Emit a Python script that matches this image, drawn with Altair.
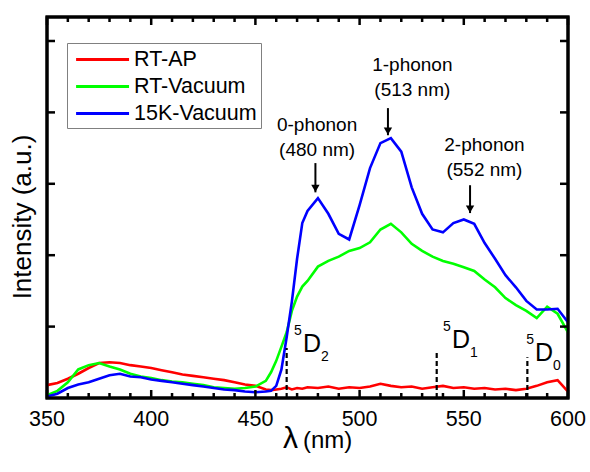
import altair as alt
import pandas as pd

# ---------------- data ----------------
wavelength = [350, 355, 360, 365, 370, 375, 380, 385, 390, 395, 400, 405, 410, 415, 420,
              425, 430, 435, 440, 445, 450, 455, 457.5, 460, 462.5, 465, 467.5, 470, 472.5,
              475, 480, 485, 490, 495, 500, 505, 510, 515, 520, 525, 530, 535, 540, 545,
              550, 555, 560, 565, 570, 575, 580, 585, 590, 595, 600]

rt_ap = [0.18, 0.21, 0.27, 0.34, 0.42, 0.49, 0.50, 0.49, 0.46, 0.44, 0.42, 0.39, 0.36, 0.33, 0.31,
         0.29, 0.27, 0.25, 0.22, 0.19, 0.17, 0.12, 0.11, 0.12, 0.13, 0.15, 0.12, 0.14, 0.13,
         0.15, 0.14, 0.16, 0.13, 0.15, 0.14, 0.16, 0.20, 0.17, 0.15, 0.16, 0.13, 0.15, 0.17, 0.14,
         0.15, 0.13, 0.14, 0.12, 0.13, 0.11, 0.13, 0.17, 0.22, 0.25, 0.09]

rt_vacuum = [0.04, 0.10, 0.22, 0.40, 0.46, 0.49, 0.44, 0.40, 0.34, 0.30, 0.28, 0.25, 0.23, 0.22, 0.20,
             0.18, 0.15, 0.14, 0.13, 0.14, 0.16, 0.24, 0.36, 0.52, 0.72, 0.92, 1.22, 1.42, 1.56,
             1.64, 1.84, 1.92, 1.98, 2.06, 2.10, 2.18, 2.36, 2.44, 2.32, 2.16, 2.06, 1.98, 1.92, 1.88,
             1.83, 1.78, 1.66, 1.55, 1.40, 1.30, 1.22, 1.12, 1.28, 1.18, 0.92]

k15_vacuum = [0.02, 0.06, 0.14, 0.19, 0.22, 0.27, 0.32, 0.34, 0.30, 0.29, 0.26, 0.24, 0.22, 0.20, 0.18,
              0.16, 0.14, 0.12, 0.11, 0.09, 0.08, 0.09, 0.10, 0.17, 0.40, 0.85, 1.35, 1.95, 2.45,
              2.62, 2.80, 2.58, 2.30, 2.22, 2.70, 3.22, 3.57, 3.64, 3.45, 2.95, 2.58, 2.36, 2.32, 2.45,
              2.50, 2.44, 2.17, 1.95, 1.72, 1.55, 1.36, 1.24, 1.24, 1.25, 1.06]

series_names = ["RT-AP", "RT-Vacuum", "15K-Vacuum"]
series_colors = ["#FF0000", "#00FF00", "#0000FF"]

x_major = [350, 400, 450, 500, 550, 600]
x_tick_labels = ["350", "400", "450", "500", "550", "600"]
x_minor = [v for v in range(350, 601, 10) if v % 50 != 0]
y_major = [1, 2, 3, 4, 5]
x_range = [350, 600]
y_range = [0, 5.336]

x_title_symbol = ["λ"]
x_title_unit = ["(nm)"]
y_title = ["Intensity (a.u.)"]

# energy levels 5D2, 5D1, 5D0
level_sub = ["2", "1", "0"]
level_x = [465, 537, 580.5]
level_top = [0.70, 0.67, 0.57]
level_label_x = [472.8, 544.3, 584.2]
level_label_y = [0.76, 0.81, 0.63]

# phonon annotations
phonon_line1 = ["0-phonon", "1-phonon", "2-phonon"]
phonon_line2 = ["(480 nm)", "(513 nm)", "(552 nm)"]
phonon_text_x = [479.6, 525.3, 559.9]
phonon_text_y = [3.65, 4.49, 3.37]
arrow_x = [478.8, 513.6, 553.0]
arrow_top = [3.29, 4.06, 2.98]
arrow_tip = [2.88, 3.68, 2.59]

FONT = "Liberation Sans"
W, H = 521, 381

# ---------------- tables ----------------
rows = []
for name, vals in zip(series_names, [rt_ap, rt_vacuum, k15_vacuum]):
    for w, v in zip(wavelength, vals):
        rows.append({"nm": w, "val": v, "series": name})
df = pd.DataFrame(rows)

df_levels = pd.DataFrame({"x": level_x, "base": [0] * 3, "top": level_top,
                          "lx": level_label_x, "ly": level_label_y, "sub": level_sub,
                          "sup": ["5"] * 3, "D": ["D"] * 3})
df_ph = pd.DataFrame({"tx": phonon_text_x, "ty": phonon_text_y, "l1": phonon_line1,
                      "l2": phonon_line2, "ax": arrow_x, "atop": arrow_top, "atip": arrow_tip})
df_xlab = pd.DataFrame({"xl": x_major, "label": x_tick_labels})
df_xM = pd.DataFrame({"x": x_major})
df_xm = pd.DataFrame({"x": x_minor})
df_yM = pd.DataFrame({"y": y_major})
df_frame = pd.DataFrame({"x0": [x_range[0]], "x1": [x_range[1]],
                         "y0": [y_range[0]], "y1": [y_range[1]]})

xs = alt.Scale(domain=x_range, nice=False, zero=False)
ys = alt.Scale(domain=y_range, nice=False, zero=False)
X = lambda f: alt.X(f, scale=xs, axis=None)
Y = lambda f: alt.Y(f, scale=ys, axis=None)

lines = alt.Chart(df).mark_line(strokeWidth=2.6).encode(
    x=X("nm:Q"),
    y=Y("val:Q"),
    color=alt.Color("series:N",
                    scale=alt.Scale(domain=series_names, range=series_colors),
                    sort=series_names,
                    legend=alt.Legend(title=None, orient="none", legendX=20, legendY=26,
                                      symbolType="M-0.7,0H4.3", symbolSize=449,
                                      symbolStrokeWidth=3, labelFontSize=21.5, labelFont=FONT,
                                      labelColor="black", strokeColor="#808080",
                                      padding=4, rowPadding=4, labelOffset=38)),
    order=alt.Order("series:N"),
)

# tick labels (positioned by the x scale)
x_labels = alt.Chart(df_xlab).mark_text(align="center", baseline="middle", fontSize=21.5,
                                        font=FONT, color="black").encode(
    x=X("xl:Q"), y=alt.value(H + 22), text="label:N")

# axis titles
title_x_sym = alt.Chart(pd.DataFrame({"t": x_title_symbol})).mark_text(
    align="right", baseline="alphabetic", fontSize=30, font=FONT, color="black").encode(
    x=alt.value(251), y=alt.value(431), text="t:N")
title_x_unit = alt.Chart(pd.DataFrame({"t": x_title_unit})).mark_text(
    align="left", baseline="alphabetic", fontSize=24, font=FONT, color="black").encode(
    x=alt.value(256), y=alt.value(431), text="t:N")
title_y = alt.Chart(pd.DataFrame({"t": y_title})).mark_text(
    align="center", baseline="middle", fontSize=26, font=FONT, color="black",
    angle=270).encode(x=alt.value(-24), y=alt.value(200), text="t:N")

lv = alt.Chart(df_levels)
level_rules = lv.mark_rule(strokeDash=[5, 3], strokeWidth=2.2, color="black").encode(
    x=X("x:Q"), y=Y("base:Q"), y2="top:Q")
level_D = lv.mark_text(align="left", baseline="middle", fontSize=25, font=FONT,
                       color="black").encode(x=X("lx:Q"), y=Y("ly:Q"), text="D:N")
level_sup = lv.mark_text(align="right", baseline="middle", fontSize=14, font=FONT,
                         color="black", dx=-1, dy=-13).encode(
    x=X("lx:Q"), y=Y("ly:Q"), text="sup:N")
level_subt = lv.mark_text(align="left", baseline="middle", fontSize=14, font=FONT,
                          color="black", dx=18, dy=13).encode(
    x=X("lx:Q"), y=Y("ly:Q"), text="sub:N")

ph = alt.Chart(df_ph)
ph_l1 = ph.mark_text(align="center", baseline="middle", fontSize=19, font=FONT,
                     color="black", dy=-12.5).encode(x=X("tx:Q"), y=Y("ty:Q"), text="l1:N")
ph_l2 = ph.mark_text(align="center", baseline="middle", fontSize=19, font=FONT,
                     color="black", dy=12.5).encode(x=X("tx:Q"), y=Y("ty:Q"), text="l2:N")
ph_shaft = ph.mark_rule(strokeWidth=2, color="black").encode(
    x=X("ax:Q"), y=Y("atop:Q"), y2="atip:Q")
ph_head = ph.mark_point(shape="triangle-down", filled=True, size=70, color="black",
                        opacity=1, yOffset=-4).encode(x=X("ax:Q"), y=Y("atip:Q"))

# inward tick marks on all four sides, and the frame
tick_style = dict(color="black", strokeWidth=2.5, opacity=1)
xb_major = alt.Chart(df_xM).mark_rule(**tick_style).encode(
    x=X("x:Q"), y=alt.value(H), y2=alt.value(H - 8))
xb_minor = alt.Chart(df_xm).mark_rule(**tick_style).encode(
    x=X("x:Q"), y=alt.value(H), y2=alt.value(H - 5))
xt_major = alt.Chart(df_xM).mark_rule(**tick_style).encode(
    x=X("x:Q"), y=alt.value(0), y2=alt.value(8))
xt_minor = alt.Chart(df_xm).mark_rule(**tick_style).encode(
    x=X("x:Q"), y=alt.value(0), y2=alt.value(5))
yl_major = alt.Chart(df_yM).mark_rule(**tick_style).encode(
    y=Y("y:Q"), x=alt.value(0), x2=alt.value(8))
yr_major = alt.Chart(df_yM).mark_rule(**tick_style).encode(
    y=Y("y:Q"), x=alt.value(W), x2=alt.value(W - 8))
frame = alt.Chart(df_frame).mark_rect(fillOpacity=0, stroke="black", strokeWidth=3,
                                      strokeOpacity=1).encode(
    x=X("x0:Q"), x2="x1:Q", y=Y("y0:Q"), y2="y1:Q")

chart = alt.layer(
    lines,
    level_rules, level_D, level_sup, level_subt,
    ph_l1, ph_l2, ph_shaft, ph_head,
    x_labels, title_x_sym, title_x_unit, title_y,
    xb_major, xb_minor, xt_major, xt_minor, yl_major, yr_major, frame,
).properties(
    width=W, height=H,
    autosize=alt.AutoSizeParams(type="none"),
    padding={"left": 47, "top": 17, "right": 22, "bottom": 74},
    background="white",
).configure_view(stroke="black", strokeWidth=3)

chart.save("out.html", embed_options={"renderer": "svg", "actions": False})
